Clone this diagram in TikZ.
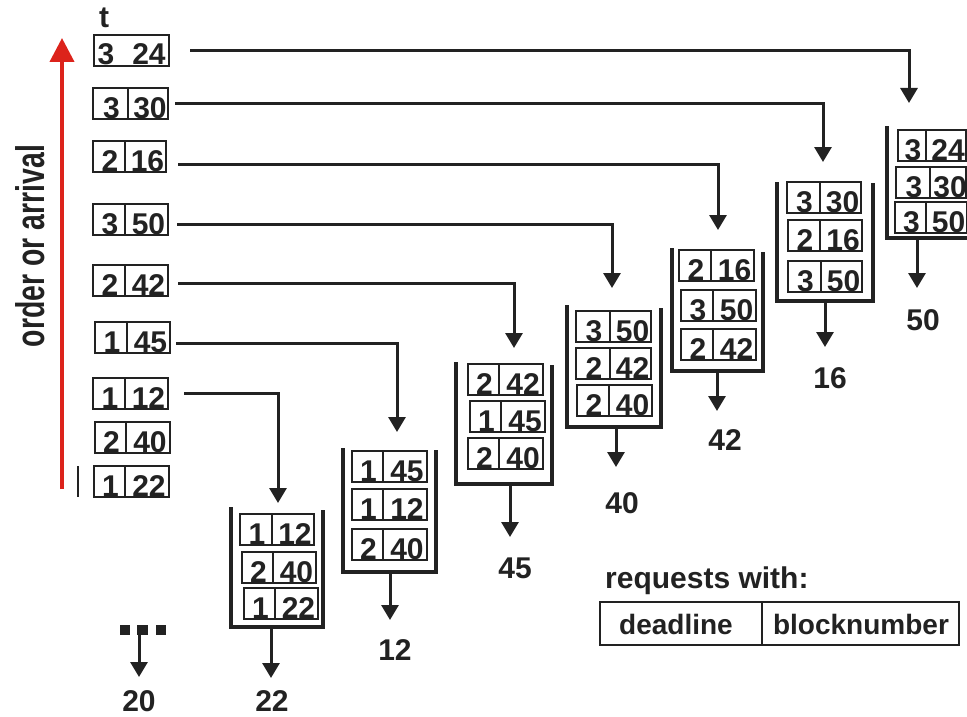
\documentclass[tikz,border=0pt]{standalone}
\usepackage{fontspec}
\setmainfont{Liberation Sans}
\usetikzlibrary{arrows.meta}
\definecolor{ink}{HTML}{222222}
\definecolor{arrowred}{HTML}{DC231B}

\tikzset{
  reqframe/.style={draw=ink, line width=2.8pt, minimum height=31pt, inner sep=0pt, outer sep=0pt},
  reqline/.style={draw=ink, line width=2.8pt},
  numtxt/.style={text=ink, font=\fontsize{30}{30}\selectfont\bfseries, anchor=base, inner sep=0pt},
  wall/.style={draw=ink, line width=3.2pt},
  conn/.style={draw=ink, line width=3pt, -{Triangle[width=17pt,length=15pt]}},
  lbl/.style={text=ink, font=\fontsize{30}{30}\selectfont\bfseries, anchor=base, inner sep=0pt},
  legtxt/.style={text=ink, font=\fontsize{28}{28}\selectfont\bfseries, anchor=base, inner sep=0pt},
}

% request box: name, left x, top y, width, left cell width, deadline, block number
\newcommand\reqbox[7]{%
  \node[reqframe, minimum width=#4pt, anchor=north west] (#1) at (#2,#3) {};
  \draw[reqline] ([xshift=#5pt]#1.north west) -- ([xshift=#5pt]#1.south west);
  \node[numtxt] at ([shift={(#5/2+1,-1)}]#1.south west) {#6};
  \node[numtxt] at ([shift={(#5/2+#4/2+2,-1)}]#1.south west) {#7};
}

% queue container: name, left x, left top y, right x, right top y, bottom y
\newcommand\queuebox[6]{%
  \coordinate (#1-tl) at (#2,#3);
  \coordinate (#1-bl) at (#2,#6);
  \coordinate (#1-br) at (#4,#6);
  \coordinate (#1-tr) at (#4,#5);
  \draw[wall] (#1-tl) -- (#1-bl) -- (#1-br) -- (#1-tr);
}

\begin{document}
\begin{tikzpicture}[x=1pt,y=-1pt]
\useasboundingbox (0,0) rectangle (967,717);
\clip (0,0) rectangle (967,717);

% time axis
\node[lbl] (tlabel) at (104,28) {t};
\coordinate (axbot) at (62,489);
\coordinate (axtop) at (62,38);
\draw[draw=arrowred, line width=4pt, -{Triangle[width=24pt,length=24pt]}] (axbot) -- (axtop);
\node[text=ink, rotate=90, anchor=base, inner sep=0pt,
      font=\fontsize{40}{40}\selectfont\bfseries] (axis) at (44,246)
      {\scalebox{0.71}[1]{order or arrival}};

% arriving requests
\node[reqframe, minimum width=75pt, anchor=north west] (r1) at (94,35) {};
\node[numtxt] at (106,65) {3};
\node[numtxt] at (149,65) {24};
\reqbox{r2}{93}{88}{75}{35}{3}{30}
\reqbox{r3}{93}{141}{73}{32}{2}{16}
\reqbox{r4}{93}{204}{75}{32}{3}{50}
\reqbox{r5}{93}{265}{75}{32}{2}{42}
\reqbox{r6}{95}{322}{75}{32}{1}{45}
\reqbox{r7}{93}{378}{75}{32}{1}{12}
\reqbox{r8}{95}{422}{75}{31}{2}{40}
\reqbox{r9}{94}{466}{75}{31}{1}{22}
\draw[reqline] (78,466) -- (78,497);

% queues
\queuebox{qA}{231}{507}{323}{510}{627}
\reqbox{a1}{240}{514}{74}{32}{1}{12}
\reqbox{a2}{242}{552}{74}{31}{2}{40}
\reqbox{a3}{244}{588}{74}{31}{1}{22}

\queuebox{qB}{343}{448}{436}{450}{572}
\reqbox{b1}{352}{451}{75}{31}{1}{45}
\reqbox{b2}{352}{489}{75}{31}{1}{12}
\reqbox{b3}{352}{529}{75}{31}{2}{40}

\queuebox{qC}{456}{362}{552}{365}{484}
\reqbox{c1}{468}{364}{75}{31}{2}{42}
\reqbox{c2}{470}{401}{75}{31}{1}{45}
\reqbox{c3}{468}{438}{75}{31}{2}{40}

\queuebox{qD}{567}{305}{661}{308}{427}
\reqbox{d1}{576}{311}{75}{34}{3}{50}
\reqbox{d2}{576}{348}{75}{34}{2}{42}
\reqbox{d3}{577}{385}{75}{32}{2}{40}

\queuebox{qE}{672}{248}{763}{252}{371}
\reqbox{e1}{679}{250}{75}{32}{2}{16}
\reqbox{e2}{681}{290}{75}{32}{3}{50}
\reqbox{e3}{681}{329}{75}{32}{2}{42}

\queuebox{qF}{777}{182}{873}{183}{301}
\reqbox{f1}{787}{182}{74}{33}{3}{30}
\reqbox{f2}{788}{220}{74}{32}{2}{16}
\reqbox{f3}{788}{261}{74}{33}{3}{50}

\queuebox{qG}{887}{126}{990}{126}{238}
\reqbox{g1}{898}{130}{68}{28}{3}{24}
\reqbox{g2}{896}{167}{70}{34}{3}{30}
\reqbox{g3}{895}{202}{72}{31}{3}{50}

% arrival connectors
\coordinate (inA) at (278,503);
\coordinate (inB) at (397,432);
\coordinate (inC) at (514,348);
\coordinate (inD) at (612,288);
\coordinate (inE) at (718,230);
\coordinate (inF) at (823,162);
\coordinate (inG) at (909,103);
\draw[conn] ([shift={(21,0)}]r1.east) -| (inG);
\draw[conn] ([shift={(7,0)}]r2.east) -| (inF);
\draw[conn] ([shift={(12,7.5)}]r3.east) -| (inE);
\draw[conn] ([shift={(9,4.5)}]r4.east) -| (inD);
\draw[conn] ([shift={(10,2.5)}]r5.east) -| (inC);
\draw[conn] ([shift={(6,5.5)}]r6.east) -| (inB);
\draw[conn] ([shift={(16,0)}]r7.east) -| (inA);

% served requests
\node[lbl] (oA) at (272,711) {22};
\node[lbl] (oB) at (395,660) {12};
\node[lbl] (oC) at (515,578) {45};
\node[lbl] (oD) at (622,513) {40};
\node[lbl] (oE) at (725,450) {42};
\node[lbl] (oF) at (830,388) {16};
\node[lbl] (oG) at (923,330) {50};
\node[lbl] (o0) at (139,711) {20};
\draw[conn] (271,627) coordinate (sA) -- (271,678) coordinate (tA);
\draw[conn] (390,572) coordinate (sB) -- (390,620) coordinate (tB);
\draw[conn] (510,484) coordinate (sC) -- (510,537) coordinate (tC);
\draw[conn] (616,427) coordinate (sD) -- (616,467) coordinate (tD);
\draw[conn] (717,371) coordinate (sE) -- (717,411) coordinate (tE);
\draw[conn] (825,301) coordinate (sF) -- (825,347) coordinate (tF);
\draw[conn] (917,238) coordinate (sG) -- (917,288) coordinate (tG);

% earlier requests
\fill[ink] (120,625) rectangle (130,635);
\fill[ink] (137,625) rectangle (148,635);
\fill[ink] (156,625) rectangle (166,635);
\draw[conn] (139,635) coordinate (s0) -- (139,677) coordinate (t0);

% legend
\node[legtxt, anchor=base west, font=\fontsize{30}{30}\selectfont\bfseries] (legtitle) at (605,588) {requests with:};
\node[reqframe, minimum width=162pt, minimum height=43pt, anchor=north west] (legd) at (600,602) {};
\node[reqframe, minimum width=197pt, minimum height=43pt, anchor=north west] (legb) at (762,602) {};
\node[legtxt] at (676,634) {deadline};
\node[legtxt] at (861,634) {blocknumber};
\end{tikzpicture}
\end{document}
